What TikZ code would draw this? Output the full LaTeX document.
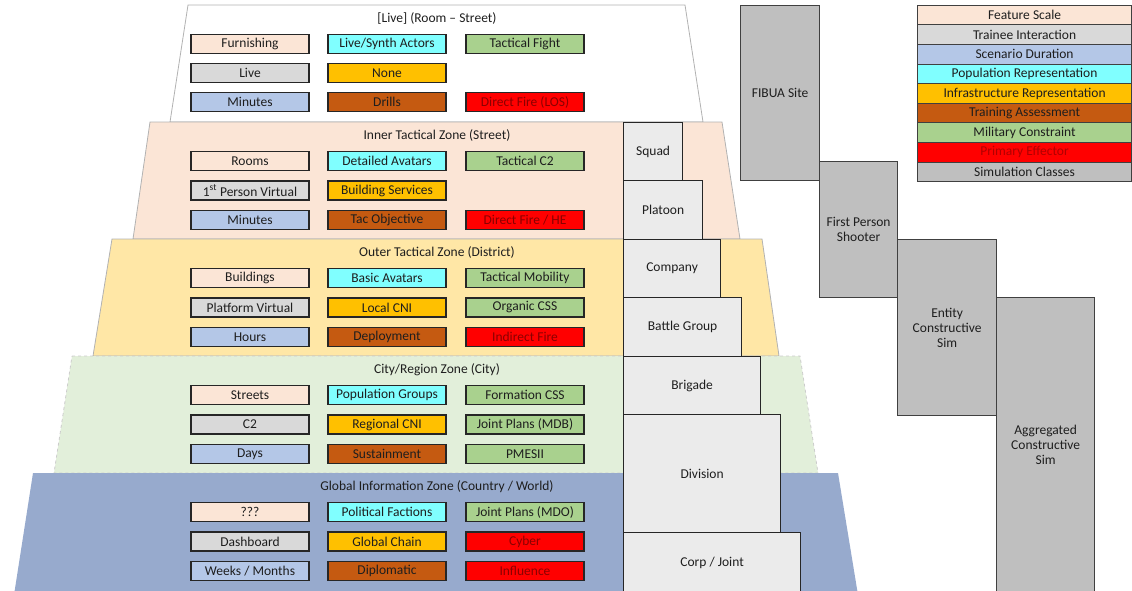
\documentclass[tikz,border=0pt]{standalone}
\usepackage{fontspec}
\setmainfont{Carlito}
\definecolor{cFS}{HTML}{FBE5D6}
\definecolor{cTI}{HTML}{D9D9D9}
\definecolor{cSD}{HTML}{B4C7E7}
\definecolor{cPR}{HTML}{80FFFF}
\definecolor{cIR}{HTML}{FFC000}
\definecolor{cTA}{HTML}{C55A11}
\definecolor{cMC}{HTML}{A9D18E}
\definecolor{cPE}{HTML}{FF0000}
\definecolor{cSC}{HTML}{BFBFBF}
\definecolor{zPeach}{HTML}{FBE5D6}
\definecolor{zYellow}{HTML}{FFE7A6}
\definecolor{zGreen}{HTML}{E2EFDA}
\definecolor{zBlue}{HTML}{97AACD}
\definecolor{echfill}{HTML}{EBEBEB}
\definecolor{boxline}{HTML}{262626}
\definecolor{txt}{HTML}{1E1E1E}
\definecolor{redtxt}{HTML}{8A0000}
\definecolor{legredtxt}{HTML}{B00000}
\begin{document}
\begin{tikzpicture}[x=1pt,y=-1pt,
  every node/.style={font=\fontsize{13.5}{15}\selectfont, text=txt},
  zone/.style={draw=black!30, line width=0.8pt},
  ztitle/.style={inner sep=0pt},
  cell/.style={draw=boxline, line width=1.4pt, minimum width=118pt, minimum height=19pt, inner sep=0pt},
  fs/.style={cell, fill=cFS},
  ti/.style={cell, fill=cTI},
  sd/.style={cell, fill=cSD},
  pr/.style={cell, fill=cPR},
  ir/.style={cell, fill=cIR},
  ta/.style={cell, fill=cTA},
  mc/.style={cell, fill=cMC},
  pe/.style={cell, fill=cPE, text=redtxt},
  ech/.style={draw=black!85, line width=1.2pt, fill=echfill, anchor=north west, inner sep=0pt},
  simbox/.style={draw=black!75, line width=1.2pt, fill=cSC, anchor=north west, inner sep=0pt, align=center},
  legrow/.style={draw=black!75, line width=1.1pt, anchor=north west, minimum width=214pt, minimum height=19.6pt, inner sep=0pt}
]
\useasboundingbox (0,0) rectangle (1132,590);
\clip (0,0) rectangle (1132,590);

% zone bands, top to bottom
\draw[zone, fill=white]   (188,5)   -- (685,5)   -- (703,122) -- (170,122) -- cycle;
\draw[zone, fill=zPeach]  (150,122) -- (722,122) -- (740,239) -- (133,239) -- cycle;
\draw[zone, fill=zYellow] (112,239) -- (762,239) -- (779,356) -- (93,356)  -- cycle;
\draw[zone, fill=zGreen, dashed, draw=black!20] (72,356) -- (800,356) -- (818,473) -- (54,473) -- cycle;
\fill[zBlue] (33,473) -- (838,473) -- (858,595) -- (14,595) -- cycle;

% zone titles
\node[ztitle] (t1) at (437,18.5)  {[Live] (Room – Street)};
\node[ztitle] (t2) at (437,135.5) {Inner Tactical Zone (Street)};
\node[ztitle] (t3) at (437,252.5) {Outer Tactical Zone (District)};
\node[ztitle] (t4) at (437,369.5) {City/Region Zone (City)};
\node[ztitle] (t5) at (437,486.5) {Global Information Zone (Country / World)};

% zone 1
\node[fs] (a1) at (250,44)  {Furnishing};
\node[pr] (a2) at (387,44)  {Live/Synth Actors};
\node[mc] (a3) at (525,44)  {Tactical Fight};
\node[ti] (a4) at (250,73)  {Live};
\node[ir] (a5) at (387,73)  {None};
\node[sd] (a6) at (250,102) {Minutes};
\node[ta] (a7) at (387,102) {Drills};
\node[pe] (a8) at (525,102) {Direct Fire (LOS)};

% zone 2
\node[fs] (b1) at (250,161)   {Rooms};
\node[pr] (b2) at (387,161)   {Detailed Avatars};
\node[mc] (b3) at (525,161)   {Tactical C2};
\node[ti] (b4) at (250,190.5) {1\textsuperscript{st} Person Virtual};
\node[ir] (b5) at (387,190.5) {Building Services};
\node[sd] (b6) at (250,220)   {Minutes};
\node[ta] (b7) at (387,220)   {Tac Objective};
\node[pe] (b8) at (525,220)   {Direct Fire / HE};

% zone 3
\node[fs] (c1) at (250,278)   {Buildings};
\node[pr] (c2) at (387,278)   {Basic Avatars};
\node[mc] (c3) at (525,278)   {Tactical Mobility};
\node[ti] (c4) at (250,307.5) {Platform Virtual};
\node[ir] (c5) at (387,307.5) {Local CNI};
\node[mc] (c6) at (525,307.5) {Organic CSS};
\node[sd] (c7) at (250,337)   {Hours};
\node[ta] (c8) at (387,337)   {Deployment};
\node[pe] (c9) at (525,337)   {Indirect Fire};

% zone 4
\node[fs] (d1) at (250,395)   {Streets};
\node[pr] (d2) at (387,395)   {Population Groups};
\node[mc] (d3) at (525,395)   {Formation CSS};
\node[ti] (d4) at (250,424.5) {C2};
\node[ir] (d5) at (387,424.5) {Regional CNI};
\node[mc] (d6) at (525,424.5) {Joint Plans (MDB)};
\node[sd] (d7) at (250,454)   {Days};
\node[ta] (d8) at (387,454)   {Sustainment};
\node[mc] (d9) at (525,454)   {PMESII};

% zone 5
\node[fs] (e1) at (250,512)   {???};
\node[pr] (e2) at (387,512)   {Political Factions};
\node[mc] (e3) at (525,512)   {Joint Plans (MDO)};
\node[ti] (e4) at (250,541.5) {Dashboard};
\node[ir] (e5) at (387,541.5) {Global Chain};
\node[pe] (e6) at (525,541.5) {Cyber};
\node[sd] (e7) at (250,571)   {Weeks / Months};
\node[ta] (e8) at (387,571)   {Diplomatic};
\node[pe] (e9) at (525,571)   {Influence};

% echelon steps
\node[ech, minimum width=59pt,  minimum height=58pt]  (squad)    at (623,122) {Squad};
\node[ech, minimum width=79pt,  minimum height=59pt]  (platoon)  at (623,180) {Platoon};
\node[ech, minimum width=97pt,  minimum height=58pt]  (company)  at (623,239) {Company};
\node[ech, minimum width=118pt, minimum height=59pt]  (bgroup)   at (623,297) {Battle Group};
\node[ech, minimum width=137pt, minimum height=58pt]  (brigade)  at (623,356) {Brigade};
\node[ech, minimum width=157pt, minimum height=118pt] (division) at (623,414) {Division};
\node[ech, minimum width=177pt, minimum height=60pt]  (corp)     at (623,532) {Corp / Joint};

% simulation classes
\node[simbox, minimum width=79pt, minimum height=175pt] (fibua)  at (740,5)   {FIBUA Site};
\node[simbox, minimum width=78pt, minimum height=136pt] (fps)    at (819,161) {First Person\\Shooter};
\node[simbox, minimum width=99pt, minimum height=176pt] (entity) at (897,239) {Entity\\Constructive\\Sim};
\node[simbox, minimum width=98pt, minimum height=294pt] (aggr)   at (996,297) {Aggregated\\Constructive\\Sim};

% legend
\node[legrow, fill=cFS] (l1) at (917,4.7)   {Feature Scale};
\node[legrow, fill=cTI] (l2) at (917,24.3)  {Trainee Interaction};
\node[legrow, fill=cSD] (l3) at (917,43.9)  {Scenario Duration};
\node[legrow, fill=cPR] (l4) at (917,63.5)  {Population Representation};
\node[legrow, fill=cIR] (l5) at (917,83.1)  {Infrastructure Representation};
\node[legrow, fill=cTA] (l6) at (917,102.7) {Training Assessment};
\node[legrow, fill=cMC] (l7) at (917,122.3) {Military Constraint};
\node[legrow, fill=cPE, text=legredtxt] (l8) at (917,141.9) {Primary Effector};
\node[legrow, fill=cSC] (l9) at (917,161.5) {Simulation Classes};
\end{tikzpicture}
\end{document}
